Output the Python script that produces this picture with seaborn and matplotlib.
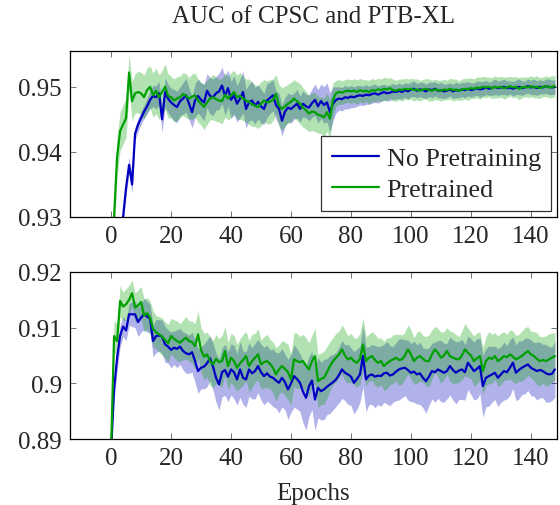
import numpy as np
import seaborn as sns
import matplotlib
matplotlib.use('Agg')
import matplotlib.pyplot as plt

# ---- data (one value per epoch, 0..148) ----

# top panel: CPSC, mean AUC
top_blue = [
    0.9050, 0.9120, 0.9180, 0.9250, 0.9300, 0.9345, 0.9380, 0.9350, 0.9428, 0.9442,
    0.9452, 0.9462, 0.9470, 0.9480, 0.9486, 0.9484, 0.9490, 0.9450, 0.9492, 0.9482,
    0.9476, 0.9472, 0.9469, 0.9478, 0.9482, 0.9487, 0.9474, 0.9461, 0.9479, 0.9486,
    0.9480, 0.9476, 0.9494, 0.9486, 0.9484, 0.9490, 0.9493, 0.9502, 0.9486, 0.9498,
    0.9480, 0.9487, 0.9474, 0.9482, 0.9492, 0.9466, 0.9476, 0.9479, 0.9471, 0.9477,
    0.9470, 0.9466, 0.9479, 0.9483, 0.9487, 0.9472, 0.9466, 0.9448, 0.9462, 0.9468,
    0.9466, 0.9470, 0.9474, 0.9466, 0.9474, 0.9470, 0.9468, 0.9475, 0.9480, 0.9470,
    0.9478, 0.9472, 0.9476, 0.9461, 0.9474, 0.9480, 0.9482, 0.9481, 0.9484, 0.9483,
    0.9485, 0.9484, 0.9486, 0.9487, 0.9486, 0.9488, 0.9487, 0.9489, 0.9490, 0.9488,
    0.9490, 0.9492, 0.9490, 0.9491, 0.9493, 0.9492, 0.9494, 0.9492, 0.9495, 0.9493,
    0.9496, 0.9497, 0.9494, 0.9496, 0.9495, 0.9493, 0.9496, 0.9495, 0.9497, 0.9494,
    0.9495, 0.9493, 0.9494, 0.9496, 0.9493, 0.9495, 0.9494, 0.9496, 0.9495, 0.9497,
    0.9495, 0.9496, 0.9498, 0.9496, 0.9497, 0.9499, 0.9497, 0.9498, 0.9500, 0.9498,
    0.9499, 0.9500, 0.9498, 0.9499, 0.9497, 0.9499, 0.9500, 0.9498, 0.9499, 0.9501,
    0.9499, 0.9500, 0.9498, 0.9500, 0.9499, 0.9501, 0.9500, 0.9499, 0.9500,
]
top_green = [
    0.9200, 0.9300, 0.9392, 0.9432, 0.9442, 0.9452, 0.9522, 0.9478, 0.9490, 0.9492,
    0.9490, 0.9484, 0.9495, 0.9500, 0.9487, 0.9494, 0.9484, 0.9492, 0.9500, 0.9486,
    0.9484, 0.9479, 0.9482, 0.9484, 0.9489, 0.9486, 0.9482, 0.9485, 0.9487, 0.9479,
    0.9474, 0.9469, 0.9476, 0.9482, 0.9484, 0.9481, 0.9479, 0.9478, 0.9488, 0.9482,
    0.9487, 0.9492, 0.9484, 0.9486, 0.9482, 0.9479, 0.9477, 0.9473, 0.9471, 0.9469,
    0.9474, 0.9479, 0.9476, 0.9477, 0.9480, 0.9489, 0.9471, 0.9466, 0.9470, 0.9474,
    0.9477, 0.9482, 0.9478, 0.9474, 0.9468, 0.9464, 0.9459, 0.9462, 0.9461, 0.9457,
    0.9456, 0.9453, 0.9461, 0.9451, 0.9480, 0.9490, 0.9492, 0.9491, 0.9493, 0.9494,
    0.9493, 0.9494, 0.9492, 0.9495, 0.9493, 0.9494, 0.9492, 0.9495, 0.9494, 0.9496,
    0.9495, 0.9497, 0.9496, 0.9498, 0.9495, 0.9494, 0.9496, 0.9495, 0.9497, 0.9496,
    0.9497, 0.9495, 0.9496, 0.9494, 0.9496, 0.9497, 0.9495, 0.9494, 0.9496, 0.9495,
    0.9494, 0.9496, 0.9495, 0.9497, 0.9495, 0.9496, 0.9494, 0.9496, 0.9497, 0.9496,
    0.9498, 0.9497, 0.9499, 0.9498, 0.9500, 0.9499, 0.9500, 0.9498, 0.9500, 0.9499,
    0.9500, 0.9498, 0.9499, 0.9501, 0.9499, 0.9500, 0.9497, 0.9499, 0.9500, 0.9499,
    0.9501, 0.9499, 0.9500, 0.9498, 0.9500, 0.9501, 0.9499, 0.9500, 0.9501,
]
# top panel: spread (std, in units of 1e-4)
top_blue_sd = [
    20, 20, 18, 15, 12, 12, 12, 14, 10, 10,
    10, 10, 12, 14, 16, 18, 18, 20, 22, 22,
    22, 24, 24, 22, 24, 26, 24, 24, 26, 26,
    26, 28, 26, 28, 28, 26, 28, 28, 30, 28,
    28, 30, 28, 30, 32, 30, 28, 30, 28, 26,
    26, 24, 26, 24, 24, 22, 24, 24, 22, 22,
    22, 20, 22, 20, 20, 18, 20, 22, 24, 26,
    26, 28, 30, 30, 26, 20, 18, 18, 18, 17,
    17, 16, 16, 15, 15, 15, 14, 14, 14, 13,
    13, 12, 12, 12, 12, 11, 12, 11, 11, 12,
    11, 12, 11, 11, 12, 11, 11, 12, 11, 11,
    12, 11, 11, 10, 11, 12, 11, 11, 12, 11,
    11, 10, 11, 12, 11, 11, 10, 11, 12, 11,
    11, 12, 11, 10, 11, 11, 12, 11, 10, 11,
    11, 12, 11, 11, 10, 11, 12, 11, 11,
]
top_green_sd = [
    30, 30, 30, 30, 30, 30, 28, 30, 30, 32,
    32, 34, 34, 32, 34, 35, 34, 33, 35, 34,
    32, 33, 34, 32, 33, 34, 32, 35, 34, 33,
    33, 35, 34, 33, 35, 34, 33, 35, 34, 33,
    35, 33, 34, 36, 34, 33, 35, 34, 32, 33,
    34, 32, 33, 34, 32, 30, 32, 33, 31, 30,
    30, 29, 30, 31, 30, 29, 28, 29, 30, 28,
    28, 30, 29, 30, 26, 20, 19, 18, 18, 18,
    18, 18, 19, 18, 18, 17, 18, 18, 17, 17,
    17, 18, 17, 16, 17, 16, 16, 17, 16, 16,
    16, 17, 16, 16, 15, 16, 17, 16, 16, 15,
    16, 16, 15, 16, 17, 16, 15, 16, 16, 17,
    16, 15, 16, 17, 16, 16, 15, 16, 17, 16,
    16, 17, 16, 15, 16, 16, 17, 16, 15, 16,
    16, 16, 17, 16, 15, 16, 16, 17, 16,
]

# bottom panel: PTB-XL, mean AUC
bot_blue = [
    0.8880, 0.8990, 0.9045, 0.9085, 0.9102, 0.9095, 0.9124, 0.9124, 0.9124, 0.9110,
    0.9118, 0.9124, 0.9120, 0.9116, 0.9076, 0.9085, 0.9086, 0.9084, 0.9070, 0.9066,
    0.9060, 0.9064, 0.9062, 0.9066, 0.9058, 0.9054, 0.9052, 0.9056, 0.9040, 0.9022,
    0.9028, 0.9030, 0.9036, 0.9045, 0.9030, 0.9010, 0.8998, 0.9020, 0.9024, 0.9012,
    0.9025, 0.9020, 0.9007, 0.9025, 0.9010, 0.9007, 0.9025, 0.9018, 0.9022, 0.9031,
    0.9020, 0.9013, 0.9018, 0.9012, 0.9010, 0.9005, 0.9001, 0.9010, 0.9002, 0.8989,
    0.9000, 0.9013, 0.9008, 0.9001, 0.8985, 0.8974, 0.8995, 0.9005, 0.8971, 0.8992,
    0.8986, 0.8989, 0.8994, 0.8998, 0.9002, 0.9007, 0.9015, 0.9025, 0.9019, 0.9016,
    0.9012, 0.9001, 0.9008, 0.9016, 0.9049, 0.9007, 0.9014, 0.9016, 0.9012, 0.9014,
    0.9013, 0.9018, 0.9019, 0.9014, 0.9016, 0.9021, 0.9025, 0.9027, 0.9028, 0.9024,
    0.9019, 0.9021, 0.9016, 0.9018, 0.9010, 0.9004, 0.9012, 0.9022, 0.9020, 0.9025,
    0.9022, 0.9019, 0.9022, 0.9031, 0.9024, 0.9019, 0.9023, 0.9025, 0.9020, 0.9037,
    0.9030, 0.9022, 0.9026, 0.9031, 0.8995, 0.9010, 0.9013, 0.9016, 0.9019, 0.9010,
    0.9016, 0.9022, 0.9020, 0.9028, 0.9037, 0.9019, 0.9024, 0.9028, 0.9031, 0.9034,
    0.9028, 0.9025, 0.9022, 0.9024, 0.9022, 0.9018, 0.9016, 0.9017, 0.9025,
]
bot_green = [
    0.8880, 0.9085, 0.9076, 0.9148, 0.9138, 0.9142, 0.9150, 0.9162, 0.9136, 0.9140,
    0.9146, 0.9122, 0.9126, 0.9118, 0.9098, 0.9092, 0.9088, 0.9084, 0.9078, 0.9072,
    0.9085, 0.9080, 0.9076, 0.9073, 0.9078, 0.9082, 0.9076, 0.9074, 0.9067, 0.9088,
    0.9060, 0.9048, 0.9052, 0.9040, 0.9034, 0.9044, 0.9038, 0.9040, 0.9058, 0.9031,
    0.9046, 0.9040, 0.9028, 0.9036, 0.9042, 0.9049, 0.9031, 0.9040, 0.9046, 0.9052,
    0.9034, 0.9038, 0.9040, 0.9035, 0.9028, 0.9016, 0.9025, 0.9031, 0.9026, 0.9020,
    0.9007, 0.9043, 0.9040, 0.9038, 0.9040, 0.9032, 0.9025, 0.9040, 0.9049, 0.9004,
    0.9008, 0.9010, 0.9020, 0.9031, 0.9040, 0.9046, 0.9052, 0.9061, 0.9050, 0.9043,
    0.9046, 0.9040, 0.9037, 0.9044, 0.9070, 0.9040, 0.9046, 0.9049, 0.9042, 0.9037,
    0.9040, 0.9031, 0.9036, 0.9040, 0.9043, 0.9046, 0.9042, 0.9043, 0.9050, 0.9061,
    0.9052, 0.9040, 0.9046, 0.9049, 0.9044, 0.9040, 0.9040, 0.9052, 0.9061, 0.9055,
    0.9046, 0.9050, 0.9058, 0.9049, 0.9046, 0.9044, 0.9043, 0.9050, 0.9061, 0.9055,
    0.9050, 0.9040, 0.9045, 0.9049, 0.9022, 0.9040, 0.9046, 0.9044, 0.9049, 0.9040,
    0.9044, 0.9049, 0.9047, 0.9052, 0.9048, 0.9043, 0.9046, 0.9049, 0.9054, 0.9058,
    0.9052, 0.9049, 0.9044, 0.9040, 0.9042, 0.9040, 0.9043, 0.9046, 0.9049,
]
bot_blue_sd = [
    20, 22, 22, 20, 18, 18, 20, 22, 24, 26,
    26, 28, 28, 26, 28, 30, 28, 30, 32, 30,
    32, 30, 34, 32, 34, 36, 34, 36, 38, 40,
    38, 40, 42, 40, 42, 44, 46, 44, 46, 45,
    46, 48, 46, 50, 48, 50, 48, 46, 50, 48,
    50, 52, 50, 48, 52, 50, 54, 52, 50, 54,
    52, 56, 54, 52, 56, 58, 54, 52, 56, 54,
    52, 54, 50, 52, 50, 48, 50, 52, 50, 54,
    52, 56, 54, 50, 55, 58, 52, 54, 56, 52,
    54, 52, 56, 54, 50, 52, 55, 53, 50, 54,
    52, 55, 53, 56, 54, 58, 52, 50, 54, 52,
    55, 53, 50, 52, 54, 56, 52, 54, 50, 48,
    50, 52, 54, 50, 56, 52, 54, 50, 48, 52,
    50, 52, 48, 50, 46, 50, 52, 48, 50, 47,
    50, 48, 52, 50, 48, 52, 50, 48, 50,
]
bot_green_sd = [
    30, 28, 30, 28, 26, 28, 26, 24, 26, 28,
    28, 30, 28, 30, 32, 30, 32, 34, 32, 34,
    32, 34, 36, 34, 36, 38, 36, 38, 40, 42,
    40, 42, 40, 44, 42, 44, 42, 46, 44, 42,
    44, 46, 42, 44, 46, 44, 46, 48, 44, 46,
    44, 46, 48, 44, 46, 48, 44, 46, 48, 50,
    46, 48, 50, 46, 48, 50, 48, 46, 50, 48,
    46, 48, 46, 44, 42, 44, 42, 44, 46, 42,
    44, 42, 44, 46, 48, 44, 42, 44, 46, 44,
    42, 44, 46, 42, 44, 42, 46, 44, 42, 44,
    44, 42, 46, 45, 42, 44, 47, 44, 41, 44,
    46, 43, 42, 45, 46, 44, 41, 44, 47, 44,
    42, 45, 46, 43, 42, 44, 47, 44, 42, 45,
    46, 44, 41, 44, 46, 43, 42, 45, 46, 44,
    42, 44, 47, 44, 42, 45, 46, 44, 42,
]

labels = ['No Pretraining', 'Pretrained']
blue = '#0000c0'
green = '#00a000'

epochs = np.arange(len(top_blue))

# ---- style ----
sns.set_style('ticks')
plt.rcParams['font.family'] = ['Liberation Serif', 'DejaVu Serif']
fs = 18

fig = plt.figure(figsize=(5.6, 5.06), dpi=100)
ax1 = fig.add_axes([0.125, 0.5692, 0.8696, 0.3280])
ax2 = fig.add_axes([0.125, 0.1304, 0.8696, 0.3301])


def draw(ax, mean_b, sd_b, mean_g, sd_g, legend):
    mb, mg = np.array(mean_b), np.array(mean_g)
    sb, sg = np.array(sd_b) * 1e-4, np.array(sd_g) * 1e-4
    ax.fill_between(epochs, mb - sb, mb + sb, color=blue, alpha=0.3, linewidth=0)
    ax.fill_between(epochs, mg - sg, mg + sg, color=green, alpha=0.3, linewidth=0)
    sns.lineplot(x=epochs, y=mb, color=blue, linewidth=1.6, ax=ax,
                 label=labels[0] if legend else None, legend=legend)
    sns.lineplot(x=epochs, y=mg, color=green, linewidth=1.6, ax=ax,
                 label=labels[1] if legend else None, legend=legend)
    ax.set_xlim(-13.7, 148.7)
    ax.set_xticks(range(0, 141, 20))
    ax.tick_params(direction='in', top=True, right=True, length=4.5,
                   width=0.7, color='0.45', labelsize=fs, pad=6)
    for s in ax.spines.values():
        s.set_linewidth(0.9)
        s.set_color('black')
    ax.set_ylabel('')


draw(ax1, top_blue, top_blue_sd, top_green, top_green_sd, True)
ax1.set_ylim(0.93, 0.9555)
ax1.set_yticks([0.93, 0.94, 0.95])
ax1.set_yticklabels(['0.93', '0.94', '0.95'])
ax1.set_title('AUC of CPSC and PTB-XL', fontsize=fs, pad=21)
leg = ax1.legend(loc='lower right', fontsize=18.8, frameon=True, fancybox=False,
                 edgecolor='black', handlelength=1.8, handletextpad=0.3,
                 borderpad=0.4, labelspacing=0.3, borderaxespad=0.22)
leg.get_frame().set_linewidth(0.9)
for h in leg.get_lines():
    h.set_linewidth(1.6)

draw(ax2, bot_blue, bot_blue_sd, bot_green, bot_green_sd, False)
ax2.set_ylim(0.89, 0.92)
ax2.set_yticks([0.89, 0.90, 0.91, 0.92])
ax2.set_yticklabels(['0.89', '0.9', '0.91', '0.92'])
ax2.set_xlabel('Epochs', fontsize=fs, labelpad=9)

fig.savefig('out.png', dpi=100)
